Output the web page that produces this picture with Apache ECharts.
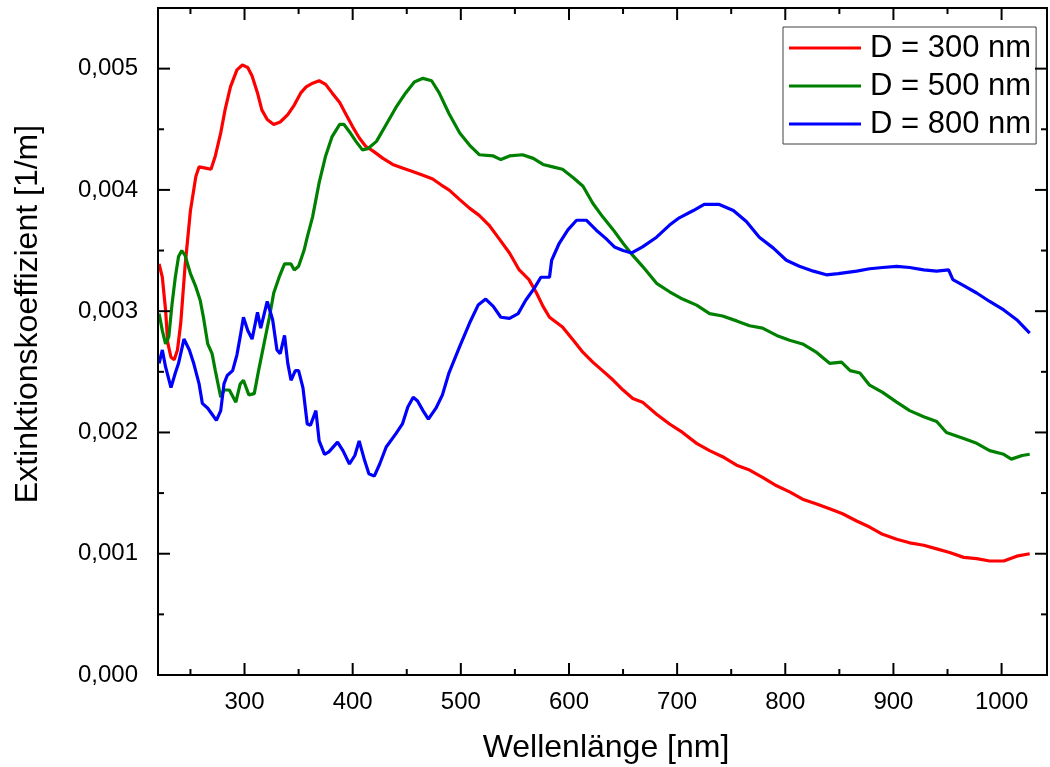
<!DOCTYPE html>
<html>
<head>
<meta charset="utf-8">
<title>Extinktionskoeffizient</title>
<script src="https://cdn.jsdelivr.net/npm/echarts@6/dist/echarts.min.js"></script>
<style>
  html, body { margin: 0; padding: 0; background: #fff; }
  #chart { width: 1050px; height: 767px; }
</style>
</head>
<body>
<div id="chart"></div>
<script>
// Wavelengths [nm] and extinction coefficients [1/m] for the three particle diameters
const wl300 = [221,224,227,229,232,235,238,241,245,250,255,258,264,269,273,278,282,287,293,298,303,307,312,316,321,327,333,340,346,352,357,363,369,375,381,388,394,400,406,412,419,428,437,446,456,465,474,482,489,499,508,517,526,536,545,554,563,570,576,582,594,604,613,622,631,641,650,659,668,681,693,705,718,730,742,755,767,779,792,804,816,829,841,853,866,878,890,903,915,928,940,952,965,977,989,1002,1014,1026];
const ext300 = [0.00339,0.00328,0.00301,0.00274,0.00262,0.00260,0.00268,0.00290,0.00337,0.00383,0.00411,0.00419,0.00418,0.00417,0.00428,0.00447,0.00466,0.00485,0.00499,0.00503,0.00501,0.00494,0.00480,0.00466,0.00458,0.00454,0.00456,0.00462,0.00470,0.00480,0.00485,0.00488,0.00490,0.00487,0.00480,0.00472,0.00462,0.00452,0.00443,0.00436,0.00432,0.00426,0.00421,0.00418,0.00415,0.00412,0.00409,0.00404,0.00400,0.00392,0.00385,0.00379,0.00371,0.00359,0.00348,0.00334,0.00326,0.00315,0.00304,0.00295,0.00287,0.00276,0.00266,0.00258,0.00251,0.00243,0.00235,0.00228,0.00225,0.00215,0.00207,0.00200,0.00191,0.00185,0.00180,0.00173,0.00169,0.00163,0.00156,0.00151,0.00145,0.00141,0.00137,0.00133,0.00127,0.00122,0.00116,0.00112,0.00109,0.00107,0.00104,0.00101,0.00097,0.00096,0.00094,0.00094,0.00098,0.00100];

const wl500 = [221,224,227,230,233,236,239,242,245,250,255,259,262,266,270,273,278,281,286,292,296,299,304,309,313,318,323,327,332,337,343,346,350,355,358,363,369,375,381,388,392,397,403,409,414,422,431,440,449,457,465,473,480,489,499,508,517,530,537,545,557,567,576,585,594,604,613,622,631,641,650,659,668,681,693,705,718,730,742,755,767,779,792,804,816,829,841,852,860,869,878,890,903,915,928,940,949,965,977,989,1002,1009,1019,1026];
const ext500 = [0.00298,0.00284,0.00273,0.00279,0.00306,0.00328,0.00345,0.00350,0.00346,0.00331,0.00320,0.00309,0.00295,0.00273,0.00265,0.00251,0.00229,0.00235,0.00235,0.00225,0.00240,0.00243,0.00231,0.00232,0.00251,0.00273,0.00295,0.00315,0.00328,0.00339,0.00339,0.00334,0.00337,0.00350,0.00361,0.00378,0.00406,0.00428,0.00444,0.00454,0.00454,0.00448,0.00440,0.00433,0.00434,0.00440,0.00454,0.00468,0.00480,0.00489,0.00492,0.00490,0.00480,0.00463,0.00447,0.00437,0.00429,0.00428,0.00425,0.00428,0.00429,0.00426,0.00421,0.00419,0.00417,0.00410,0.00403,0.00389,0.00378,0.00367,0.00356,0.00346,0.00337,0.00323,0.00316,0.00310,0.00305,0.00298,0.00296,0.00292,0.00288,0.00286,0.00280,0.00276,0.00273,0.00266,0.00257,0.00258,0.00251,0.00249,0.00239,0.00233,0.00225,0.00218,0.00213,0.00209,0.00200,0.00195,0.00191,0.00185,0.00182,0.00178,0.00181,0.00182];

const wl800 = [221,224,227,232,236,239,244,249,253,258,261,266,270,274,278,281,284,289,293,296,299,303,307,312,315,321,326,330,333,337,340,343,347,350,354,358,361,366,369,374,378,386,391,397,402,406,411,415,420,425,431,440,446,451,456,460,465,470,477,483,489,499,508,516,523,530,537,545,553,560,568,574,582,584,591,599,607,616,625,634,642,650,658,668,681,693,702,715,725,739,752,764,776,789,801,813,826,838,849,866,878,890,903,915,928,940,951,955,965,977,989,1002,1014,1026];
const ext800 = [0.00257,0.00268,0.00254,0.00237,0.00249,0.00257,0.00277,0.00268,0.00257,0.00240,0.00224,0.00220,0.00215,0.00210,0.00218,0.00240,0.00247,0.00251,0.00264,0.00279,0.00295,0.00284,0.00277,0.00299,0.00286,0.00308,0.00293,0.00268,0.00265,0.00280,0.00257,0.00243,0.00251,0.00251,0.00237,0.00207,0.00206,0.00218,0.00193,0.00182,0.00184,0.00192,0.00185,0.00174,0.00181,0.00193,0.00177,0.00166,0.00164,0.00174,0.00188,0.00199,0.00207,0.00221,0.00229,0.00226,0.00218,0.00211,0.00220,0.00231,0.00249,0.00271,0.00290,0.00305,0.00310,0.00304,0.00295,0.00294,0.00298,0.00309,0.00319,0.00328,0.00328,0.00342,0.00356,0.00367,0.00375,0.00375,0.00367,0.00360,0.00353,0.00350,0.00348,0.00353,0.00361,0.00371,0.00377,0.00383,0.00388,0.00388,0.00383,0.00374,0.00361,0.00352,0.00342,0.00337,0.00333,0.00330,0.00331,0.00333,0.00335,0.00336,0.00337,0.00336,0.00334,0.00333,0.00334,0.00326,0.00321,0.00315,0.00308,0.00301,0.00293,0.00282];

const seriesNames = ['D = 300 nm', 'D = 500 nm', 'D = 800 nm'];
const seriesColors = ['#ff0000', '#008000', '#0000ff'];

// Axis ranges and tick positions
const xRange = [220, 1042];
const yRange = [0, 0.0055];
const xMajorTicks = [300, 400, 500, 600, 700, 800, 900, 1000];
const xMinorTicks = [250, 350, 450, 550, 650, 750, 850, 950];
const yMajorTicks = [0.001, 0.002, 0.003, 0.004, 0.005];
const yMinorTicks = [0.0005, 0.0015, 0.0025, 0.0035, 0.0045];

const FONT = "'Liberation Sans', Arial, Helvetica, sans-serif";

const zip = (xs, ys) => xs.map((x, i) => [x, ys[i]]);

const lineSeries = [
  [wl300, ext300],
  [wl500, ext500],
  [wl800, ext800]
].map(([xs, ys], i) => ({
  name: seriesNames[i],
  type: 'line',
  data: zip(xs, ys),
  showSymbol: false,
  symbol: 'none',
  smooth: false,
  color: seriesColors[i],
  lineStyle: { width: 3.2, color: seriesColors[i] },
  silent: true,
  animation: false,
  z: 2
}));

const tickStyle = { stroke: '#000', lineWidth: 2 };

// Inward ticks on bottom/top edges
const xTickSeries = {
  type: 'custom',
  silent: true,
  animation: false,
  clip: false,
  z: 5,
  data: xMajorTicks.map(v => [v, 0, 1]).concat(xMinorTicks.map(v => [v, 0, 0])),
  renderItem: (params, api) => {
    const cs = params.coordSys;
    const p = api.coord([api.value(0), yRange[0]]);
    const len = api.value(2) ? 12 : 6;
    const bottom = cs.y + cs.height;
    return {
      type: 'group',
      children: [
        { type: 'line', shape: { x1: p[0], y1: bottom, x2: p[0], y2: bottom - len }, style: tickStyle },
        { type: 'line', shape: { x1: p[0], y1: cs.y, x2: p[0], y2: cs.y + len }, style: tickStyle }
      ]
    };
  }
};

// Inward ticks on left/right edges
const yTickSeries = {
  type: 'custom',
  silent: true,
  animation: false,
  clip: false,
  z: 5,
  data: yMajorTicks.map(v => [xRange[0], v, 1]).concat(yMinorTicks.map(v => [xRange[0], v, 0])),
  renderItem: (params, api) => {
    const cs = params.coordSys;
    const p = api.coord([xRange[0], api.value(1)]);
    const len = api.value(2) ? 12 : 6;
    const right = cs.x + cs.width;
    return {
      type: 'group',
      children: [
        { type: 'line', shape: { x1: cs.x, y1: p[1], x2: cs.x + len, y2: p[1] }, style: tickStyle },
        { type: 'line', shape: { x1: right, y1: p[1], x2: right - len, y2: p[1] }, style: tickStyle }
      ]
    };
  }
};

const isMultiple = (v, step) => {
  const k = Math.round(v / step);
  return Math.abs(v - k * step) < step * 1e-6;
};

const chart = echarts.init(document.getElementById('chart'), null, { renderer: 'canvas' });

chart.setOption({
  animation: false,
  backgroundColor: '#fff',
  textStyle: { fontFamily: FONT },
  grid: {
    left: 158, right: 3, top: 8, bottom: 92,
    show: true,
    borderColor: '#000',
    borderWidth: 2,
    backgroundColor: 'transparent',
    z: 3
  },
  xAxis: {
    type: 'value',
    min: xRange[0],
    max: xRange[1],
    interval: 10,
    axisLine: { show: false },
    axisTick: { show: false },
    splitLine: { show: false },
    axisLabel: {
      color: '#000',
      fontSize: 24,
      fontFamily: FONT,
      margin: 15,
      formatter: v => (isMultiple(v, 100) ? String(Math.round(v)) : '')
    }
  },
  yAxis: {
    type: 'value',
    min: yRange[0],
    max: yRange[1],
    interval: 0.001,
    axisLine: { show: false },
    axisTick: { show: false },
    splitLine: { show: false },
    axisLabel: {
      color: '#000',
      fontSize: 24,
      fontFamily: FONT,
      margin: 20,
      formatter: v => (isMultiple(v, 0.001) ? v.toFixed(3).replace('.', ',') : '')
    }
  },
  legend: {
    data: seriesNames,
    orient: 'vertical',
    left: 783,
    top: 27,
    padding: [2, 5, 1, 6],
    itemGap: 0,
    itemWidth: 72,
    itemHeight: 3,
    icon: 'rect',
    borderColor: '#404040',
    borderWidth: 1,
    backgroundColor: '#fff',
    selectedMode: false,
    textStyle: {
      color: '#000',
      fontSize: 31,
      fontFamily: FONT,
      lineHeight: 38,
      padding: [0, 0, 0, 4]
    }
  },
  graphic: [
    {
      type: 'text',
      x: 606,
      y: 748,
      style: {
        text: 'Wellenlänge [nm]',
        font: '32px ' + FONT,
        fill: '#000',
        textAlign: 'center',
        textVerticalAlign: 'middle'
      }
    },
    {
      type: 'text',
      x: 28,
      y: 314,
      rotation: Math.PI / 2,
      style: {
        text: 'Extinktionskoeffizient [1/m]',
        font: '32px ' + FONT,
        fill: '#000',
        textAlign: 'center',
        textVerticalAlign: 'middle'
      }
    }
  ],
  series: lineSeries.concat([xTickSeries, yTickSeries])
});
</script>
</body>
</html>
